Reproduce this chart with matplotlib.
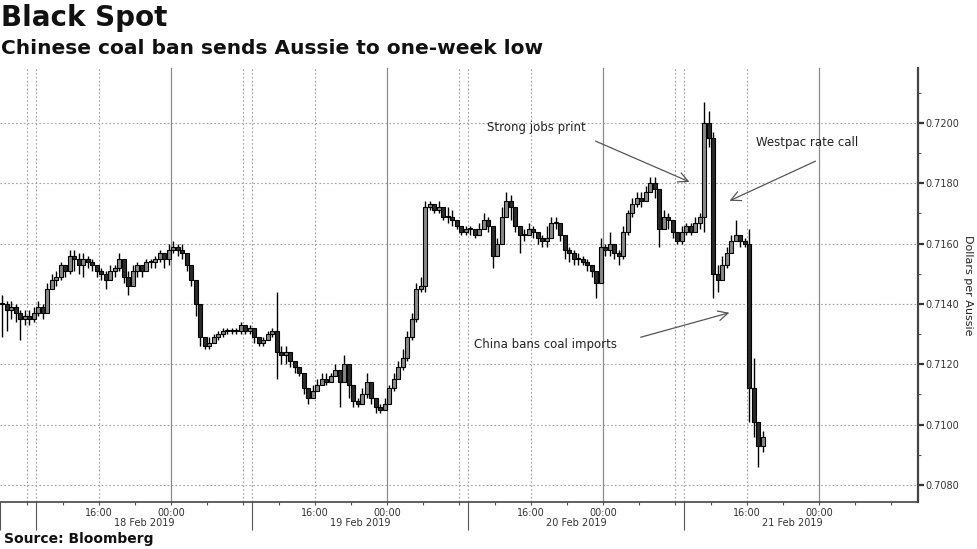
import matplotlib
matplotlib.use("Agg")
import matplotlib.pyplot as plt
from matplotlib.ticker import FixedLocator, FuncFormatter
import numpy as np

# ---------------- data (30-minute bars, AUD/USD) ----------------
closes = [0.7140, 0.7138, 0.7139, 0.7137, 0.7135, 0.7136, 0.7135, 0.7137, 0.7139, 0.7137,
          0.7145, 0.7148, 0.7149, 0.7153, 0.7151, 0.7156, 0.7155, 0.7153, 0.7155, 0.7154,
          0.7153, 0.7151, 0.7150, 0.7148, 0.7151, 0.7152, 0.7155, 0.7149, 0.7146, 0.7151,
          0.7153, 0.7151, 0.7154, 0.7154, 0.7155, 0.7157, 0.7155, 0.7158, 0.7159, 0.7158,
          0.7157, 0.7153, 0.7148, 0.7140, 0.7129, 0.7126, 0.7127, 0.7129, 0.7130, 0.7131,
          0.7131, 0.7131, 0.7131, 0.7133, 0.7131, 0.7132, 0.7129, 0.7127, 0.7128, 0.7130,
          0.7131, 0.7124, 0.7123, 0.7124, 0.7121, 0.7119, 0.7117, 0.7112, 0.7109, 0.7111,
          0.7113, 0.7115, 0.7114, 0.7116, 0.7118, 0.7114, 0.7120, 0.7113, 0.7108, 0.7107,
          0.7110, 0.7114, 0.7109, 0.7106, 0.7105, 0.7107, 0.7112, 0.7115, 0.7119, 0.7122,
          0.7129, 0.7135, 0.7145, 0.7146, 0.7172, 0.7173, 0.7171, 0.7172, 0.7169, 0.7169,
          0.7168, 0.7166, 0.7164, 0.7165, 0.7165, 0.7163, 0.7165, 0.7168, 0.7166, 0.7156,
          0.7160, 0.7169, 0.7174, 0.7172, 0.7166, 0.7163, 0.7163, 0.7165, 0.7164, 0.7162,
          0.7161, 0.7162, 0.7167, 0.7167, 0.7163, 0.7158, 0.7157, 0.7155, 0.7155, 0.7154,
          0.7153, 0.7151, 0.7147, 0.7159, 0.7158, 0.7160, 0.7157, 0.7156, 0.7164, 0.7170,
          0.7173, 0.7175, 0.7174, 0.7177, 0.7180, 0.7178, 0.7165, 0.7169, 0.7168, 0.7164,
          0.7161, 0.7164, 0.7166, 0.7164, 0.7167, 0.7169, 0.7200, 0.7195, 0.7150, 0.7148,
          0.7153, 0.7157, 0.7161, 0.7163, 0.7161, 0.7160, 0.7112, 0.7101, 0.7093, 0.7096]
highs = [0.7143, 0.7141, 0.7141, 0.7140, 0.7138, 0.7138, 0.7138, 0.7139, 0.7141, 0.7140,
         0.7147, 0.7150, 0.7151, 0.7154, 0.7153, 0.7158, 0.7158, 0.7157, 0.7157, 0.7156,
         0.7155, 0.7153, 0.7152, 0.7151, 0.7153, 0.7153, 0.7157, 0.7153, 0.7151, 0.7153,
         0.7154, 0.7153, 0.7155, 0.7155, 0.7156, 0.7158, 0.7157, 0.7160, 0.7161, 0.7160,
         0.7160, 0.7156, 0.7152, 0.7147, 0.7137, 0.7129, 0.7129, 0.7130, 0.7131, 0.7132,
         0.7132, 0.7132, 0.7132, 0.7134, 0.7133, 0.7133, 0.7132, 0.7129, 0.7129, 0.7131,
         0.7132, 0.7144, 0.7126, 0.7126, 0.7124, 0.7121, 0.7119, 0.7117, 0.7112, 0.7113,
         0.7115, 0.7117, 0.7117, 0.7117, 0.7120, 0.7118, 0.7123, 0.7119, 0.7111, 0.7109,
         0.7112, 0.7117, 0.7113, 0.7109, 0.7107, 0.7109, 0.7113, 0.7117, 0.7121, 0.7125,
         0.7131, 0.7137, 0.7147, 0.7149, 0.7174, 0.7174, 0.7173, 0.7174, 0.7171, 0.7172,
         0.7171, 0.7168, 0.7166, 0.7166, 0.7166, 0.7165, 0.7167, 0.7170, 0.7169, 0.7166,
         0.7162, 0.7172, 0.7177, 0.7176, 0.7170, 0.7166, 0.7165, 0.7167, 0.7166, 0.7164,
         0.7163, 0.7166, 0.7169, 0.7169, 0.7167, 0.7163, 0.7159, 0.7158, 0.7157, 0.7156,
         0.7155, 0.7153, 0.7151, 0.7162, 0.7160, 0.7164, 0.7160, 0.7158, 0.7166, 0.7171,
         0.7175, 0.7177, 0.7177, 0.7179, 0.7182, 0.7182, 0.7176, 0.7171, 0.7170, 0.7167,
         0.7163, 0.7166, 0.7167, 0.7167, 0.7169, 0.7170, 0.7207, 0.7204, 0.7197, 0.7153,
         0.7156, 0.7159, 0.7163, 0.7168, 0.7163, 0.7162, 0.7165, 0.7122, 0.7099, 0.7098]
lows = [0.7129, 0.7131, 0.7135, 0.7134, 0.7128, 0.7133, 0.7133, 0.7134, 0.7136, 0.7135,
        0.7137, 0.7145, 0.7146, 0.7148, 0.7149, 0.7150, 0.7151, 0.7150, 0.7149, 0.7152,
        0.7151, 0.7149, 0.7148, 0.7145, 0.7148, 0.7149, 0.7151, 0.7147, 0.7143, 0.7148,
        0.7149, 0.7149, 0.7151, 0.7152, 0.7152, 0.7154, 0.7152, 0.7153, 0.7157, 0.7156,
        0.7155, 0.7151, 0.7146, 0.7136, 0.7126, 0.7125, 0.7125, 0.7127, 0.7128, 0.7129,
        0.7130, 0.7130, 0.7130, 0.7130, 0.7130, 0.7130, 0.7127, 0.7126, 0.7126, 0.7128,
        0.7129, 0.7115, 0.7120, 0.7120, 0.7119, 0.7117, 0.7116, 0.7110, 0.7107, 0.7109,
        0.7111, 0.7113, 0.7113, 0.7114, 0.7116, 0.7106, 0.7117, 0.7109, 0.7106, 0.7106,
        0.7107, 0.7109, 0.7107, 0.7104, 0.7104, 0.7105, 0.7107, 0.7111, 0.7115, 0.7118,
        0.7121, 0.7128, 0.7134, 0.7144, 0.7144, 0.7171, 0.7170, 0.7170, 0.7168, 0.7167,
        0.7166, 0.7165, 0.7163, 0.7163, 0.7163, 0.7162, 0.7163, 0.7166, 0.7164, 0.7152,
        0.7156, 0.7160, 0.7170, 0.7168, 0.7164, 0.7157, 0.7161, 0.7163, 0.7162, 0.7160,
        0.7159, 0.7159, 0.7164, 0.7165, 0.7161, 0.7155, 0.7154, 0.7153, 0.7153, 0.7153,
        0.7151, 0.7149, 0.7142, 0.7148, 0.7156, 0.7156, 0.7155, 0.7153, 0.7155, 0.7163,
        0.7169, 0.7172, 0.7172, 0.7175, 0.7177, 0.7175, 0.7159, 0.7166, 0.7165, 0.7162,
        0.7160, 0.7160, 0.7163, 0.7163, 0.7165, 0.7165, 0.7164, 0.7192, 0.7142, 0.7144,
        0.7149, 0.7152, 0.7157, 0.7161, 0.7159, 0.7159, 0.7101, 0.7096, 0.7086, 0.7091]

bar_hours = 0.5           # bar interval in hours
y_ticks = [0.7080, 0.7100, 0.7120, 0.7140, 0.7160, 0.7180, 0.7200]
hour_labels = {11: "16:00", 19: "00:00", 35: "16:00", 43: "00:00",
               59: "16:00", 67: "00:00", 83: "16:00", 91: "00:00"}
day_sep = [0, 4, 28, 52, 76]
day_labels = ["18 Feb 2019", "19 Feb 2019", "20 Feb 2019", "21 Feb 2019"]
day_centers = [16, 40, 64, 88]

title = "Black Spot"
subtitle = "Chinese coal ban sends Aussie to one-week low"
source = "Source: Bloomberg"
ylabel = "Dollars per Aussie"

# ---------------- figure ----------------
plt.rcParams['font.family'] = ['DejaVu Sans']
fig = plt.figure(figsize=(9.77, 5.49), dpi=100)
W, H = 977, 549
ax = fig.add_axes([0 / W, (H - 502) / H, 918 / W, (502 - 68) / H])

closes_a = np.array(closes)
highs_a = np.array(highs)
lows_a = np.array(lows)
opens_a = np.concatenate([[closes_a[0]], closes_a[:-1]])
t = np.arange(len(closes_a)) * bar_hours + bar_hours / 2

# wicks
ax.vlines(t, lows_a, highs_a, color='black', lw=1.0, zorder=3)
# bodies
up = closes_a >= opens_a
bottom = np.minimum(opens_a, closes_a)
height = np.maximum(np.abs(closes_a - opens_a), 0.00003)
colors = np.where(up, '#8a8a8a', '#2a2a2a')
ax.bar(t, height, bottom=bottom, width=0.44, color=colors,
       edgecolor='black', linewidth=0.8, zorder=4)

ax.set_xlim(0, 102)
ax.set_ylim(0.707436, 0.721823)

# grid lines
for yv in y_ticks:
    ax.axhline(yv, color='#a0a0a0', lw=0.8, ls=(0, (1.5, 2)), zorder=1)
for k in range(4):
    for tv in (3 + 24 * k, 4 + 24 * k, 11 + 24 * k):
        ax.axvline(tv, color='#a0a0a0', lw=0.8, ls=(0, (1.5, 2)), zorder=1)
    ax.axvline(19 + 24 * k, color='#8c8c8c', lw=0.9, zorder=1)

# spines
for s in ('top', 'left'):
    ax.spines[s].set_visible(False)
ax.spines['right'].set_color('#444444')
ax.spines['right'].set_linewidth(1.6)
ax.spines['bottom'].set_color('#444444')
ax.spines['bottom'].set_linewidth(1.2)

# y axis on right
ax.yaxis.tick_right()
ax.set_yticks(y_ticks)
ax.set_yticklabels([f"{v:.4f}" for v in y_ticks])
ax.yaxis.set_minor_locator(FixedLocator([v + 0.001 for v in y_ticks]))
ax.tick_params(axis='y', which='major', direction='out', length=4, width=1.6,
               color='#333333', labelsize=7, labelcolor='#333333', pad=1)
ax.tick_params(axis='y', which='minor', direction='out', length=2.5, width=0.8,
               color='#555555')

# x axis
ax.xaxis.set_major_locator(FixedLocator(day_sep))
ax.xaxis.set_major_formatter(FuncFormatter(lambda v, p: ""))
minor_pos = list(range(3, 100, 4))
ax.xaxis.set_minor_locator(FixedLocator(minor_pos))
ax.xaxis.set_minor_formatter(FuncFormatter(lambda v, p: hour_labels.get(int(round(v)), "")))
ax.tick_params(axis='x', which='major', direction='out', length=20, width=0.8,
               color='#555555')
ax.tick_params(axis='x', which='minor', direction='out', length=2.5, width=0.8,
               color='#555555', labelsize=7, labelcolor='#333333', pad=1.5)

for lab, c in zip(day_labels, day_centers):
    ax.annotate(lab, xy=(c, 0), xycoords=('data', 'axes fraction'),
                xytext=(0, -21), textcoords='offset pixels',
                ha='center', va='center', fontsize=7, color='#333333')

# annotations
def px2data(x, y):
    return x / 9.0, 0.7080 + (485 - y) / 30167.0

arrow_kw = dict(arrowstyle='->,head_length=0.7,head_width=0.35', color='#555555', lw=0.9)
notes = [("Strong jobs print", (487, 128), (593, 140), (692, 183)),
         ("Westpac rate call", (756, 143), (818, 160), (727, 202)),
         ("China bans coal imports", (474, 345), (638, 338), (732, 312))]
for txt, tp, tail, head in notes:
    tx, ty = px2data(*tp)
    ax.text(tx, ty, txt, fontsize=8.5, color='#222222', ha='left', va='center')
    ax.annotate("", xy=px2data(*head), xytext=px2data(*tail), arrowprops=arrow_kw)

# titles
fig.text(1 / W, 1 - 18 / H, title, fontsize=20, fontweight='bold', color='#111111',
         ha='left', va='center')
fig.text(1 / W, 1 - 48 / H, subtitle, fontsize=14.5, fontweight='bold', color='#111111',
         ha='left', va='center')
fig.text(4 / W, 1 - 539 / H, source, fontsize=10, fontweight='bold', color='#111111',
         ha='left', va='center')
fig.text(968 / W, 1 - 285 / H, ylabel, fontsize=8, rotation=270, color='#222222',
         ha='center', va='center')

fig.savefig("out.png", dpi=100)
